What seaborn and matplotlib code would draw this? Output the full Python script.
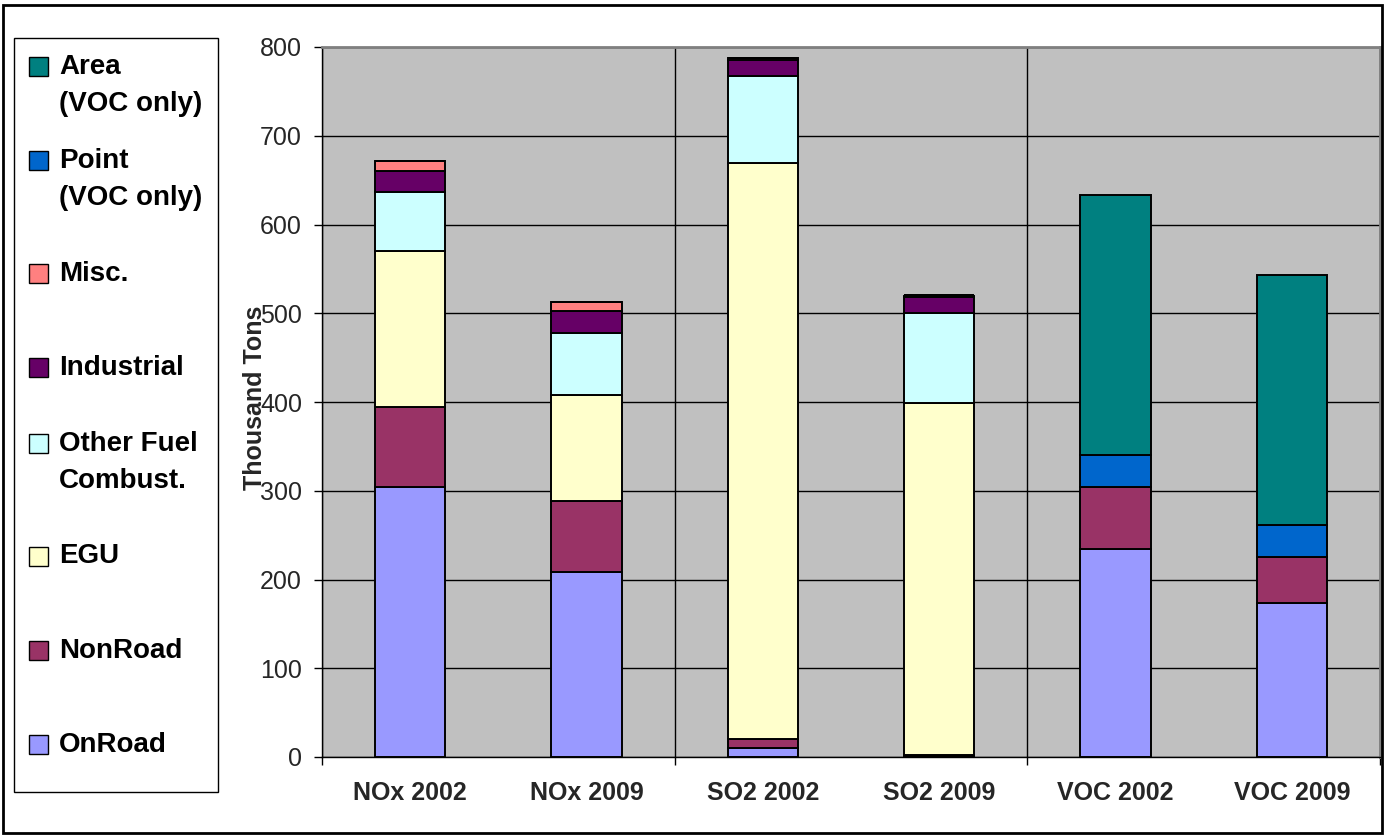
import numpy as np
import pandas as pd
import matplotlib
matplotlib.use("Agg")
import matplotlib.pyplot as plt
from matplotlib.patches import Rectangle
import seaborn as sns

# Emissions by source category, thousand tons
categories = ["NOx 2002", "NOx 2009", "SO2 2002", "SO2 2009", "VOC 2002", "VOC 2009"]
onroad      = [304, 209, 10, 1, 234, 173]
nonroad     = [90, 80, 10, 1, 70, 52]
egu         = [176, 119, 649, 397, 0, 0]
other_fuel  = [67, 70, 98, 101, 0, 0]
industrial  = [23, 24, 18, 18, 0, 0]
misc        = [11, 11, 3, 2, 0, 0]
point_voc   = [0, 0, 0, 0, 36, 36]
area_voc    = [0, 0, 0, 0, 293, 282]

series_values = [onroad, nonroad, egu, other_fuel, industrial, misc, point_voc, area_voc]
series_names = ["OnRoad", "NonRoad", "EGU", "Other Fuel\nCombust.", "Industrial",
                "Misc.", "Point\n(VOC only)", "Area\n(VOC only)"]
series_colors = ["#9999FF", "#993366", "#FFFFCC", "#CCFFFF", "#660066",
                 "#FF8080", "#0066CC", "#008080"]
y_ticks = [0, 100, 200, 300, 400, 500, 600, 700, 800]

sns.set_theme(style="ticks")
plt.rcParams["font.family"] = ["Liberation Sans", "DejaVu Sans"]

W, H = 1385, 836
fig = plt.figure(figsize=(W / 100, H / 100), dpi=100)
fig.patch.set_facecolor("white")


def fx(px):
    return px / W


def fy(py):
    return 1 - py / H


ax = fig.add_axes([fx(322), fy(757), fx(1380) - fx(322), fy(47) - fy(757)])
ax.set_facecolor("#C0C0C0")

# Stacked bars, one seaborn call per source category
bottom = np.zeros(len(categories))
for name, values, color in zip(series_names, series_values, series_colors):
    df = pd.DataFrame({"category": categories, "value": values})
    sns.barplot(data=df, x="category", y="value", order=categories, color=color,
                saturation=1, width=0.4, errorbar=None, bottom=bottom,
                edgecolor="black", linewidth=1.4, zorder=3, ax=ax)
    bottom = bottom + np.asarray(values, dtype=float)

ax.set_xlim(-0.5, len(categories) - 0.5)
ax.set_ylim(0, 800)
ax.set_yticks(y_ticks)
ax.set_yticklabels([str(v) for v in y_ticks], fontsize=18)
ax.set_xticks(range(len(categories)))
ax.set_xticklabels(categories, fontsize=18, fontweight="bold")
ax.set_xticks([-0.5, 1.5, 3.5, 5.5], minor=True)
ax.set_xlabel("")
ax.set_ylabel("Thousand Tons", fontsize=18, fontweight="bold")
ax.yaxis.set_label_coords(-0.052, 0.506)

ax.tick_params(axis="y", which="major", left=True, length=5.8, width=1,
               color="black", pad=8.6, direction="out")
ax.tick_params(axis="x", which="major", bottom=True, length=0, pad=17)
ax.tick_params(axis="x", which="minor", bottom=True, length=5.8, width=1,
               color="black", direction="out")

ax.set_axisbelow(True)
ax.yaxis.grid(True, which="major", color="black", linewidth=1)
ax.xaxis.grid(True, which="minor", color="black", linewidth=1)
ax.xaxis.grid(False, which="major")

for side in ("left", "bottom"):
    ax.spines[side].set_color("black")
    ax.spines[side].set_linewidth(1)
for side in ("top", "right"):
    ax.spines[side].set_visible(True)
    ax.spines[side].set_color("#808080")
    ax.spines[side].set_linewidth(2)

# Outer chart border
fig.add_artist(Rectangle((fx(3), fy(833)), fx(1382) - fx(3), fy(5) - fy(833),
                         transform=fig.transFigure, fill=False,
                         edgecolor="black", linewidth=2))

# Legend panel: entries listed top-down in reverse stacking order
leg_left, leg_right, leg_top, leg_bottom = 14, 218, 38, 792
fig.add_artist(Rectangle((fx(leg_left), fy(leg_bottom)), fx(leg_right) - fx(leg_left),
                         fy(leg_top) - fy(leg_bottom), transform=fig.transFigure,
                         fill=False, edgecolor="black", linewidth=1))
n_entries = len(series_names)
slot = (leg_bottom - leg_top) / n_entries
line_gap = 37
key = 19
for i, (name, color) in enumerate(zip(series_names[::-1], series_colors[::-1])):
    lines = name.split("\n")
    center = leg_top + slot * (i + 0.5)
    first = center - (len(lines) - 1) * line_gap / 2
    fig.add_artist(Rectangle((fx(29), fy(first + key / 2)), fx(key), fy(0) - fy(key),
                             transform=fig.transFigure, facecolor=color,
                             edgecolor="black", linewidth=1))
    for j, line in enumerate(lines):
        fig.text(fx(59), fy(first + j * line_gap), line, fontsize=20,
                 fontweight="bold", ha="left", va="center", color="black")

fig.savefig("out.png", dpi=100)
